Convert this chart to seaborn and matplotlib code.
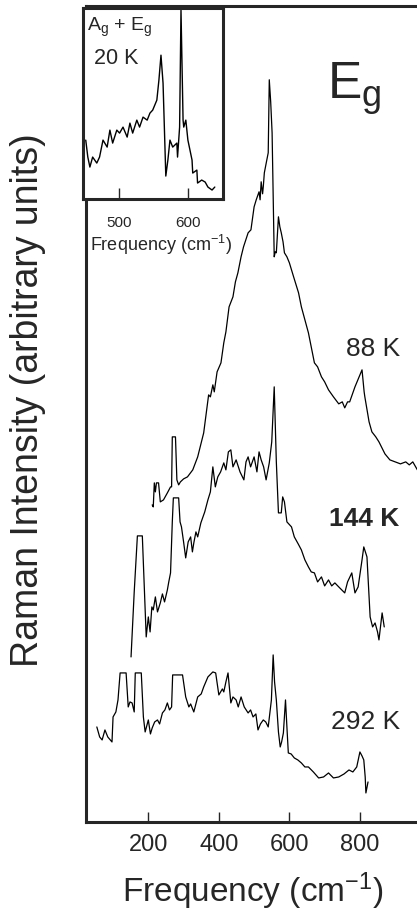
import matplotlib
matplotlib.use("Agg")
import matplotlib.pyplot as plt
import pandas as pd
import seaborn as sns

# Raman spectra, E_g geometry (intensity in arbitrary units)
freq_88K = [211, 214, 217, 220, 223, 229, 234, 243, 254, 263, 266, 268, 277, 281, 286, 291, 300,
            311, 326, 340, 357, 371, 376, 383, 387, 395, 406, 414, 420, 429, 440, 447, 454, 463,
            470, 483, 491, 500, 506, 514, 517, 520, 524, 526, 529, 535, 540, 543, 547, 551, 557,
            560, 563, 569, 573, 577, 582, 586, 593, 600, 612, 626, 634, 654, 671, 680, 691, 700,
            711, 725, 740, 750, 757, 765, 771, 786, 806, 812, 814, 826, 834, 845, 854, 871, 885,
            900, 915, 930, 940, 950, 963]
int_88K = [317, 315, 339, 330, 339, 339, 320, 322, 329, 335, 335, 385, 385, 342, 337, 340, 343,
           345, 352, 365, 389, 427, 425, 437, 430, 450, 459, 479, 490, 515, 525, 540, 549, 565,
           575, 589, 592, 615, 622, 630, 622, 640, 628, 635, 649, 660, 669, 742, 720, 689, 565,
           570, 569, 605, 595, 589, 580, 569, 565, 559, 545, 529, 515, 489, 459, 455, 445, 440,
           432, 425, 418, 420, 414, 420, 420, 435, 452, 430, 425, 400, 390, 385, 380, 368, 362,
           360, 358, 360, 357, 360, 352]

freq_144K = [151, 160, 169, 183, 194, 200, 205, 210, 214, 220, 226, 234, 240, 246, 254, 258, 263,
             268, 271, 286, 290, 294, 300, 306, 313, 320, 325, 329, 335, 340, 349, 360, 369, 376,
             383, 390, 397, 405, 414, 420, 427, 434, 440, 449, 460, 471, 477, 483, 490, 500, 508,
             514, 520, 527, 534, 543, 550, 557, 563, 569, 577, 581, 586, 593, 606, 614, 625, 634,
             644, 654, 662, 671, 680, 691, 700, 711, 720, 729, 740, 757, 765, 777, 786, 795, 806,
             811, 820, 829, 836, 843, 850, 854, 863, 869]
int_144K = [165, 230, 286, 286, 185, 205, 190, 215, 212, 225, 210, 219, 228, 220, 232, 240, 249,
            300, 324, 324, 300, 295, 280, 264, 280, 285, 270, 279, 290, 285, 299, 310, 322, 330,
            355, 335, 345, 350, 359, 352, 370, 372, 355, 362, 350, 342, 360, 365, 355, 365, 350,
            370, 362, 355, 342, 359, 380, 435, 360, 309, 309, 325, 320, 300, 295, 285, 278, 272,
            262, 255, 250, 249, 240, 245, 236, 242, 236, 239, 235, 229, 240, 249, 229, 235, 262,
            275, 265, 205, 195, 199, 190, 182, 209, 195]

freq_292K = [54, 62, 69, 77, 85, 97, 100, 108, 114, 120, 137, 143, 148, 154, 160, 163, 180, 186,
             191, 200, 206, 211, 218, 226, 232, 240, 247, 254, 260, 266, 269, 297, 306, 315, 320,
             329, 340, 350, 357, 369, 383, 391, 400, 410, 414, 420, 426, 434, 440, 449, 455, 463,
             472, 483, 490, 497, 505, 511, 518, 526, 533, 540, 549, 554, 558, 563, 569, 574, 578,
             583, 589, 593, 597, 605, 614, 624, 634, 644, 654, 668, 683, 697, 711, 725, 740, 755,
             769, 780, 791, 800, 806, 811, 815, 817, 823]
int_292K = [95, 85, 82, 92, 85, 80, 105, 110, 122, 149, 149, 115, 120, 119, 110, 149, 149, 105,
            90, 102, 88, 94, 100, 102, 98, 109, 112, 119, 112, 115, 147, 147, 125, 115, 118,
            110, 125, 128, 135, 145, 150, 149, 127, 133, 130, 140, 149, 119, 125, 122, 115, 125,
            115, 109, 112, 105, 108, 92, 98, 102, 100, 95, 122, 167, 140, 122, 90, 75, 80,
            89, 122, 95, 69, 68, 64, 62, 59, 55, 55, 50, 44, 45, 49, 44, 45, 48,
            52, 50, 55, 70, 66, 62, 45, 29, 40]

# inset: A_g + E_g at 20 K
freq_20K = [452, 455, 458, 462, 468, 472, 477, 483, 487, 491, 497, 501, 506, 512, 516, 520, 526,
            530, 535, 541, 545, 549, 555, 558, 561, 564, 568, 571, 574, 578, 584, 585, 588, 590,
            593, 594, 597, 600, 606, 607, 613, 614, 620, 625, 629, 635, 639]
int_20K = [59, 42, 32, 42, 36, 42, 59, 52, 69, 56, 69, 66, 72, 62, 76, 66, 79,
           72, 82, 79, 86, 89, 99, 119, 144, 116, 23, 39, 59, 52, 56, 42, 72, 189,
           79, 72, 79, 59, 39, 26, 29, 16, 19, 17, 12, 9, 12]

main_ticks = [200, 400, 600, 800]
inset_ticks = [500, 600]
temp_labels = ["88 K", "144 K", "292 K"]

sns.set_theme(style="ticks")
plt.rcParams["font.family"] = ["Liberation Sans", "DejaVu Sans"]
plt.rcParams["mathtext.fontset"] = "custom"
plt.rcParams["mathtext.rm"] = "Liberation Sans"
plt.rcParams["mathtext.it"] = "Liberation Sans:italic"

fig = plt.figure(figsize=(4.17, 9.13), dpi=100)
ax = fig.add_axes([0.206, 0.0997, 0.80, 0.894])

series = [(freq_88K, int_88K), (freq_144K, int_144K), (freq_292K, int_292K)]
for fx, iy in series:
    df = pd.DataFrame({"Frequency": fx, "Intensity": iy})
    sns.lineplot(data=df, x="Frequency", y="Intensity", ax=ax, color="black",
                 linewidth=0.9, estimator=None, sort=False)

ax.set_xlim(23, 969)
ax.set_ylim(0, 816)
ax.set_xticks(main_ticks)
ax.set_yticks([])
ax.tick_params(axis="x", direction="in", length=7, width=1.0, labelsize=17, pad=9)
for side in ["left", "bottom", "top"]:
    ax.spines[side].set_linewidth(2.2)
ax.spines["right"].set_visible(False)
ax.set_xlabel("Frequency (cm$^{-1}$)", fontsize=24, labelpad=10)
ax.set_ylabel("Raman Intensity (arbitrary units)", fontsize=27)
ax.yaxis.set_label_coords(-0.12, 0.517)

ax.text(783, 733, r"$\mathregular{E_g}$", fontsize=37, ha="center", va="center")
label_pos = [(837, 473), (811, 303), (817, 100)]
for lbl, (lx, ly) in zip(temp_labels, label_pos):
    ax.text(lx, ly, lbl, fontsize=19, ha="center", va="center",
            fontweight="bold" if lbl == "144 K" else "normal")

# inset
ins = fig.add_axes([0.199, 0.782, 0.336, 0.209])
df_in = pd.DataFrame({"Frequency": freq_20K, "Intensity": int_20K})
sns.lineplot(data=df_in, x="Frequency", y="Intensity", ax=ins, color="black",
             linewidth=1.0, estimator=None, sort=False)
ins.set_xlim(448, 651)
ins.set_ylim(0, 191)
ins.set_xticks(inset_ticks)
ins.set_yticks([])
ins.tick_params(axis="x", direction="in", length=8, width=1.0, labelsize=11, pad=12)
for side in ins.spines:
    ins.spines[side].set_linewidth(2.2)
ins.set_xlabel("Frequency (cm$^{-1}$)", fontsize=13)
ins.xaxis.set_label_coords(0.56, -0.175)
ins.set_ylabel("")
ins.text(0.03, 0.96, r"$\mathregular{A_g}$ + $\mathregular{E_g}$", transform=ins.transAxes,
         fontsize=14, ha="left", va="top")
ins.text(0.08, 0.79, "20 K", transform=ins.transAxes, fontsize=15.5, ha="left", va="top")

fig.savefig("out.png", dpi=100)
